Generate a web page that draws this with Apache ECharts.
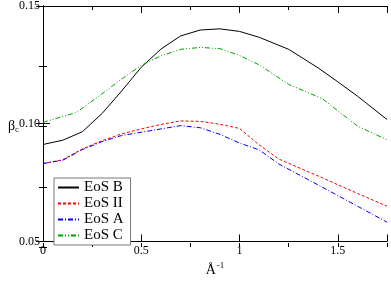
<!DOCTYPE html>
<html><head><meta charset="utf-8">
<script src="https://cdn.jsdelivr.net/npm/echarts@6/dist/echarts.min.js"></script>
<style>html,body{margin:0;padding:0;background:#fff}#c{width:391px;height:282px}</style>
</head><body><div id="c"></div>
<script>
const seriesNames = ['EoS B', 'EoS II', 'EoS A', 'EoS C'];
const xB = [0,0.1,0.2,0.3,0.4,0.5,0.6,0.7,0.8,0.9,1.0,1.1,1.25,1.4,1.5,1.6,1.75];
const yB = [0.0912,0.0930,0.0966,0.1043,0.1139,0.1240,0.1317,0.1373,0.1398,0.1403,0.1392,0.1367,0.1316,0.1237,0.1178,0.1117,0.1018];
const xII = [0,0.1,0.2,0.3,0.4,0.5,0.6,0.7,0.8,0.9,1.0,1.1,1.2,1.4,1.6,1.75];
const yII = [0.0831,0.0847,0.0893,0.0928,0.0957,0.0978,0.0997,0.1012,0.1010,0.0998,0.0980,0.0910,0.0850,0.0778,0.0704,0.0650];
const xA = [0,0.1,0.2,0.3,0.4,0.5,0.6,0.7,0.8,0.9,1.0,1.1,1.2,1.4,1.6,1.75];
const yA = [0.0831,0.0845,0.0890,0.0924,0.0950,0.0964,0.0978,0.0992,0.0983,0.0955,0.0918,0.0889,0.0829,0.0740,0.0650,0.0582];
const xC = [0,0.17,0.3,0.4,0.5,0.6,0.7,0.8,0.9,1.0,1.1,1.25,1.42,1.6,1.75];
const yC = [0.1006,0.1048,0.1127,0.1190,0.1248,0.1288,0.1316,0.1324,0.1319,0.1290,0.1250,0.1167,0.1107,0.0990,0.0932];
const xTicks = [0, 0.5, 1, 1.5];
const yTicks = [0.05, 0.10, 0.15];

const FONT = 'Liberation Serif';
const pairs = (xs, ys) => xs.map((x, i) => [x, ys[i]]);
const grid = {left: 43, right: 4, top: 6, bottom: 35};
const lineC = {color: '#000', width: 1};

function xAx(gi, pos, major) {
  return {
    type: 'value', gridIndex: gi, position: pos, min: 0, max: 1.75,
    interval: major ? 0.5 : 0.25,
    axisLine: {show: major, lineStyle: lineC},
    axisTick: {show: true, inside: true, length: major ? 7 : 4, lineStyle: lineC},
    axisLabel: {show: major && pos === 'bottom', margin: 3, color: '#000', fontFamily: FONT, fontSize: 12,
      formatter: v => xTicks.indexOf(v) >= 0 ? String(v) : ''},
    splitLine: {show: false},
    name: (major && pos === 'bottom') ? '{a|Å}{s|-1}' : '',
    nameLocation: 'middle', nameGap: 20,
    nameTextStyle: {rich: {a: {fontFamily: FONT, fontSize: 14, color: '#000'},
      s: {fontFamily: FONT, fontSize: 9, color: '#000', padding: [0, 0, 8, 1]}}}
  };
}
function yAx(gi, pos, major) {
  return {
    type: 'value', gridIndex: gi, position: pos, min: 0.05, max: 0.15,
    interval: major ? 0.05 : 0.025,
    axisLine: {show: major, lineStyle: lineC},
    axisTick: {show: true, inside: true, length: major ? 7 : 4, lineStyle: lineC},
    axisLabel: {show: major && pos === 'left', margin: 3, color: '#000', fontFamily: FONT, fontSize: 12,
      formatter: v => yTicks.some(t => Math.abs(t - v) < 1e-9) ? v.toFixed(2) : ''},
    splitLine: {show: false},
    name: (major && pos === 'left') ? '{a|β}{s|c}' : '',
    nameLocation: 'middle', nameGap: 24, nameRotate: 0, nameMoveOverlap: false,
    nameTextStyle: {padding: [6, 0, 0, 0], rich: {a: {fontFamily: FONT, fontSize: 14, color: '#000'},
      s: {fontFamily: FONT, fontSize: 9, color: '#000', padding: [6, 0, 0, 0]}}}
  };
}

const styles = [
  {color: '#000000', type: 'solid'},
  {color: '#ff0000', type: [3, 2]},
  {color: '#0000ff', type: [5, 2, 1, 2]},
  {color: '#00a000', type: [5, 2, 1, 2, 1, 2]}
];
const dataSets = [pairs(xB, yB), pairs(xII, yII), pairs(xA, yA), pairs(xC, yC)];

const chart = echarts.init(document.getElementById('c'), null, {renderer: 'canvas'});
chart.setOption({
  animation: false,
  backgroundColor: '#fff',
  grid: [Object.assign({}, grid), Object.assign({}, grid)],
  xAxis: [xAx(0, 'bottom', true), xAx(0, 'top', true), xAx(1, 'bottom', false), xAx(1, 'top', false)],
  yAxis: [yAx(0, 'left', true), yAx(0, 'right', true), yAx(1, 'left', false), yAx(1, 'right', false)],
  legend: {
    orient: 'vertical', left: 54, top: 178,
    backgroundColor: '#fff', borderColor: '#777', borderWidth: 1,
    padding: [2, 7, 2, 3], itemGap: 1, itemWidth: 21, itemHeight: 14, itemTextGap: 7,
    itemStyle: {opacity: 0},
    textStyle: {fontFamily: FONT, fontSize: 15, lineHeight: 14, color: '#000'},
    data: seriesNames
  },
  series: seriesNames.map((n, i) => ({
    name: n, type: 'line', xAxisIndex: 0, yAxisIndex: 0,
    data: dataSets[i], symbol: 'none', smooth: false,
    lineStyle: {color: styles[i].color, type: styles[i].type, width: 1},
    itemStyle: {color: styles[i].color}, z: 3
  }))
});
</script></body></html>
